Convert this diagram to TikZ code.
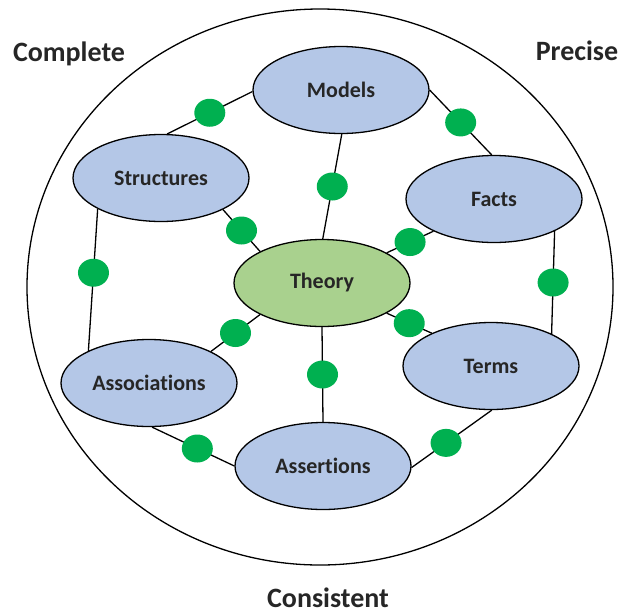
\documentclass[tikz,border=0pt]{standalone}
\usepackage{fontspec}
\setmainfont{Carlito}[Ligatures=NoCommon]
\usetikzlibrary{shapes.geometric}
\definecolor{topicblue}{HTML}{B4C7E7}
\definecolor{theorygreen}{HTML}{A9D18E}
\definecolor{dotgreen}{HTML}{00B050}
\tikzset{topic/.style={ellipse,draw,line width=1.3pt,fill=topicblue,minimum width=176pt,minimum height=87pt,
    font=\fontsize{22}{24}\selectfont\bfseries,text=black!85}}
\tikzset{dot/.style={ellipse,fill=dotgreen,minimum width=31pt,minimum height=28pt,inner sep=0pt}}
\tikzset{link/.style={line width=1.3pt}}
\tikzset{corner/.style={anchor=base,inner sep=0pt,font=\fontsize{28}{30}\selectfont\bfseries,text=black!85}}

\begin{document}
\begin{tikzpicture}[x=1pt,y=-1pt]
        \useasboundingbox (0,0) rectangle (621,614);
        \draw[link] (320,287) ellipse [x radius=293, y radius=278];
        \node[corner](complete) at (69,61){Complete};
        \node[corner](precise) at (577,60){Precise};
        \node[corner](consistent) at (328,607){Consistent};
        % the seven topics
        \node[topic](models) at (341,90){Models};
        \node[topic](structures) at (161,178){Structures};
        \node[topic](facts) at (494,199){Facts};
        \node[topic,fill=theorygreen](theory) at (322,283){Theory};
        \node[topic](associations) at (149,383){Associations};
        \node[topic](terms) at (491,366){Terms};
        \node[topic](assertions) at (323,466){Assertions};
        \draw[link]
        (structures.82) -- node[dot]{} (models.181)
        (models.0) -- node[dot]{} (facts.93)
        (models.271) -- node[dot]{} (theory.89)
        (structures.-27) -- node[dot]{} (theory.153)
        (facts.208) -- node[dot]{} (theory.25)
        (structures.206) -- node[dot,pos=0.45]{} (associations.152)
        (facts.-28) -- node[dot]{} (terms.28)
        (theory.207) -- node[dot]{} (associations.27)
        (theory.-25) -- node[dot]{} (terms.151)
        (theory.270) -- node[dot]{} (assertions.90)
        (associations.-86) -- node[dot,pos=0.55]{} (assertions.180)
        (terms.271) -- node[dot,pos=0.57]{} (assertions.-1);
      \end{tikzpicture}
\end{document}
